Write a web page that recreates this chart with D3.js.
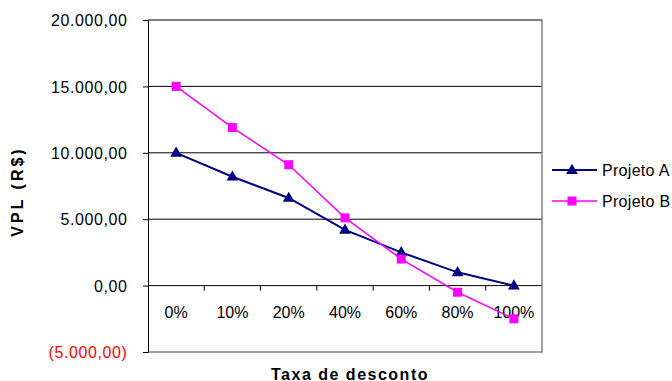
<!DOCTYPE html>
<html>
<head>
<meta charset="utf-8">
<script src="https://cdn.jsdelivr.net/npm/d3@7"></script>
<style>
  html, body { margin: 0; padding: 0; background: #fff; }
  svg { display: block; font-family: "Liberation Sans", Arial, sans-serif; }
</style>
</head>
<body>
<svg id="chart" width="672" height="381"></svg>
<script>
// Discount rates and net present value (VPL) of the two projects
const categories = ["0%", "10%", "20%", "40%", "60%", "80%", "100%"];
const projetoA = [10000, 8200, 6600, 4200, 2500, 1000, 0];
const projetoB = [15000, 11900, 9100, 5100, 2000, -500, -2500];
const yTicks = [-5000, 0, 5000, 10000, 15000, 20000];
const seriesNames = ["Projeto A", "Projeto B"];

const svg = d3.select("#chart");
const plotLeft = 148, plotRight = 542, plotTop = 20, plotBottom = 352;

const x = d3.scaleBand().domain(categories).range([plotLeft, plotRight]).padding(0);
const y = d3.scaleLinear().domain([-5000, 20000]).range([plotBottom, plotTop]);

const locale = d3.formatLocale({ decimal: ",", thousands: ".", grouping: [3], currency: ["R$", ""] });
const num = locale.format(",.2f");
const fmt = v => v < 0 ? "(" + num(-v) + ")" : num(v);

// horizontal gridlines
svg.append("g").selectAll("line").data(yTicks.filter(v => v > -5000)).join("line")
  .attr("x1", plotLeft).attr("x2", plotRight)
  .attr("y1", d => y(d)).attr("y2", d => y(d))
  .attr("stroke", "#000").attr("stroke-width", 1);

// plot frame (top, right, bottom)
svg.append("path")
  .attr("d", `M${plotLeft},${plotTop}H${plotRight}V${plotBottom}H${plotLeft}`)
  .attr("fill", "none").attr("stroke", "#808080").attr("stroke-width", 1.5);

// y axis
const yAxis = svg.append("g").attr("transform", `translate(${plotLeft},0)`)
  .call(d3.axisLeft(y).tickValues(yTicks).tickSize(5).tickFormat(fmt));
yAxis.select(".domain").attr("stroke", "#000");
yAxis.selectAll(".tick line").attr("stroke", "#000");
yAxis.selectAll(".tick text")
  .attr("x", -20.5).attr("dy", "0.36em")
  .attr("font-size", 16).attr("letter-spacing", "0.6px")
  .attr("font-family", "Liberation Sans, Arial, sans-serif")
  .attr("fill", d => d < 0 ? "#ff0000" : "#000");

// x axis along the zero line, ticks between categories
const xAxis = svg.append("g").attr("transform", `translate(0,${y(0)})`)
  .call(d3.axisBottom(x).tickSize(0).tickFormat(d => d));
xAxis.select(".domain").remove();
xAxis.selectAll(".tick text")
  .attr("y", 0).attr("dy", 0)
  .attr("transform", `translate(0,${318.3 - y(0)})`)
  .attr("font-size", 16)
  .attr("font-family", "Liberation Sans, Arial, sans-serif")
  .attr("fill", "#000");
svg.append("g").selectAll("line").data(categories.slice(1)).join("line")
  .attr("x1", d => x(d)).attr("x2", d => x(d))
  .attr("y1", y(0)).attr("y2", y(0) + 5)
  .attr("stroke", "#000");

const cx = (d, i) => x(categories[i]) + x.bandwidth() / 2;
const line = d3.line().x(cx).y(d => y(d));

const tri = d3.symbol().type(d3.symbolTriangle).size(60);
const sq = d3.symbol().type(d3.symbolSquare).size(81);

// Projeto A
svg.append("path").datum(projetoA).attr("d", line)
  .attr("fill", "none").attr("stroke", "#000080").attr("stroke-width", 2);
svg.append("g").selectAll("path").data(projetoA).join("path")
  .attr("d", tri)
  .attr("transform", (d, i) => `translate(${cx(d, i)},${y(d) + 0.5})`)
  .attr("fill", "#000080");

// Projeto B
svg.append("path").datum(projetoB).attr("d", line)
  .attr("fill", "none").attr("stroke", "#ff00ff").attr("stroke-width", 1.5);
svg.append("g").selectAll("path").data(projetoB).join("path")
  .attr("d", sq)
  .attr("transform", (d, i) => `translate(${cx(d, i)},${y(d)})`)
  .attr("fill", "#ff00ff");

// axis titles
svg.append("text")
  .attr("x", 350).attr("y", 379.5)
  .attr("text-anchor", "middle")
  .attr("font-size", 16).attr("font-weight", "bold").attr("letter-spacing", "1.5px")
  .text("Taxa de desconto");
svg.append("text")
  .attr("transform", "translate(23,191.5) rotate(-90)")
  .attr("text-anchor", "middle")
  .attr("font-size", 16).attr("font-weight", "bold").attr("letter-spacing", "3px")
  .text("VPL (R$)");

// legend
const legend = svg.append("g");
const legendColors = ["#000080", "#ff00ff"];
const legendSyms = [tri, sq];
seriesNames.forEach((name, i) => {
  const ly = 170 + i * 31;
  legend.append("line").attr("x1", 552).attr("x2", 597).attr("y1", ly).attr("y2", ly)
    .attr("stroke", legendColors[i]).attr("stroke-width", i === 0 ? 2 : 1.5);
  legend.append("path").attr("d", legendSyms[i])
    .attr("transform", `translate(572,${ly + (i === 0 ? 0.5 : 0)})`)
    .attr("fill", legendColors[i]);
  legend.append("text").attr("x", 602).attr("y", ly).attr("dy", "0.36em")
    .attr("font-size", 16).attr("letter-spacing", "0.3px")
    .text(name);
});
</script>
</body>
</html>
